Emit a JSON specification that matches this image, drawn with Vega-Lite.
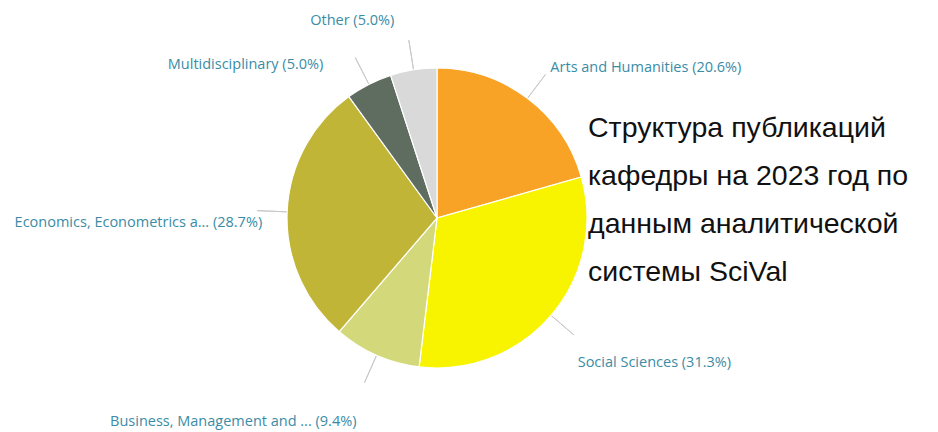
{
  "$schema": "https://vega.github.io/schema/vega-lite/v6.json",
  "width": 938,
  "height": 432,
  "autosize": {"type": "fit", "contains": "padding"},
  "padding": 0,
  "background": "white",
  "config": {"view": {"stroke": null}},
  "title": {
    "text": ["Структура публикаций", "кафедры на 2023 год по", "данным аналитической", "системы SciVal"],
    "orient": "top",
    "anchor": "start",
    "align": "left",
    "baseline": "top",
    "offset": 0,
    "dx": 588,
    "dy": 286,
    "font": "Liberation Sans, Arial, sans-serif",
    "fontSize": 28.5,
    "fontWeight": "normal",
    "lineHeight": 48,
    "color": "#111111"
  },
  "data": {
    "values": [
      {"cat": "Arts and Humanities", "value": 20.6, "rank": 1, "label": "Arts and Humanities (20.6%)"},
      {"cat": "Social Sciences", "value": 31.3, "rank": 2, "label": "Social Sciences (31.3%)"},
      {"cat": "Business, Management and Accounting", "value": 9.4, "rank": 3, "label": "Business, Management and ... (9.4%)"},
      {"cat": "Economics, Econometrics and Finance", "value": 28.7, "rank": 4, "label": "Economics, Econometrics a... (28.7%)"},
      {"cat": "Multidisciplinary", "value": 5.0, "rank": 5, "label": "Multidisciplinary (5.0%)"},
      {"cat": "Other", "value": 5.0, "rank": 6, "label": "Other (5.0%)"}
    ]
  },
  "encoding": {
    "theta": {"field": "value", "type": "quantitative", "stack": true},
    "order": {"field": "rank", "type": "quantitative", "sort": "ascending"}
  },
  "layer": [
    {
      "mark": {"type": "arc", "radius": 180, "radius2": 150, "padAngle": 3, "fill": "transparent", "stroke": "#c9c9c9", "strokeWidth": 1,
               "x": {"expr": "width*0.4659"}, "y": {"expr": "height*0.5046"}},
      "encoding": {}
    },
    {
      "mark": {"type": "arc", "radius": 150, "stroke": "white", "strokeWidth": 1.2,
               "x": {"expr": "width*0.4659"}, "y": {"expr": "height*0.5046"}},
      "encoding": {
        "color": {
          "field": "cat", "type": "nominal", "legend": null,
          "scale": {
            "domain": ["Arts and Humanities", "Social Sciences", "Business, Management and Accounting", "Economics, Econometrics and Finance", "Multidisciplinary", "Other"],
            "range": ["#F9A326", "#F8F400", "#D3D97A", "#C1B537", "#5E6D60", "#D9D9D9"]
          }
        }
      }
    },
    {
      "mark": {"type": "text", "radius": 188, "align": "left", "baseline": "middle", "font": "Open Sans", "fontSize": 14.5, "color": "#3A8CA6",
               "x": {"expr": "width*0.4659"}, "y": {"expr": "height*0.5046"}},
      "encoding": {"text": {"condition": {"test": "datum.rank === 1", "field": "label", "type": "nominal"}, "value": ""}}
    },
    {
      "mark": {"type": "text", "radius": 185, "dy": 25, "align": "left", "baseline": "middle", "font": "Open Sans", "fontSize": 14.5, "color": "#3A8CA6",
               "x": {"expr": "width*0.4659"}, "y": {"expr": "height*0.5046"}},
      "encoding": {"text": {"condition": {"test": "datum.rank === 2", "field": "label", "type": "nominal"}, "value": ""}}
    },
    {
      "mark": {"type": "text", "radius": 200, "dy": 21, "align": "right", "baseline": "middle", "font": "Open Sans", "fontSize": 14.5, "color": "#3A8CA6",
               "x": {"expr": "width*0.4659"}, "y": {"expr": "height*0.5046"}},
      "encoding": {"text": {"condition": {"test": "datum.rank === 3", "field": "label", "type": "nominal"}, "value": ""}}
    },
    {
      "mark": {"type": "text", "radius": 175, "dy": 12, "align": "right", "baseline": "middle", "font": "Open Sans", "fontSize": 14.5, "color": "#3A8CA6",
               "x": {"expr": "width*0.4659"}, "y": {"expr": "height*0.5046"}},
      "encoding": {"text": {"condition": {"test": "datum.rank === 4", "field": "label", "type": "nominal"}, "value": ""}}
    },
    {
      "mark": {"type": "text", "radius": 180, "dx": -32, "dy": 7, "align": "right", "baseline": "middle", "font": "Open Sans", "fontSize": 14.5, "color": "#3A8CA6",
               "x": {"expr": "width*0.4659"}, "y": {"expr": "height*0.5046"}},
      "encoding": {"text": {"condition": {"test": "datum.rank === 5", "field": "label", "type": "nominal"}, "value": ""}}
    },
    {
      "mark": {"type": "text", "radius": 190, "dx": -13, "dy": -9, "align": "right", "baseline": "middle", "font": "Open Sans", "fontSize": 14.5, "color": "#3A8CA6",
               "x": {"expr": "width*0.4659"}, "y": {"expr": "height*0.5046"}},
      "encoding": {"text": {"condition": {"test": "datum.rank === 6", "field": "label", "type": "nominal"}, "value": ""}}
    }
  ]
}
